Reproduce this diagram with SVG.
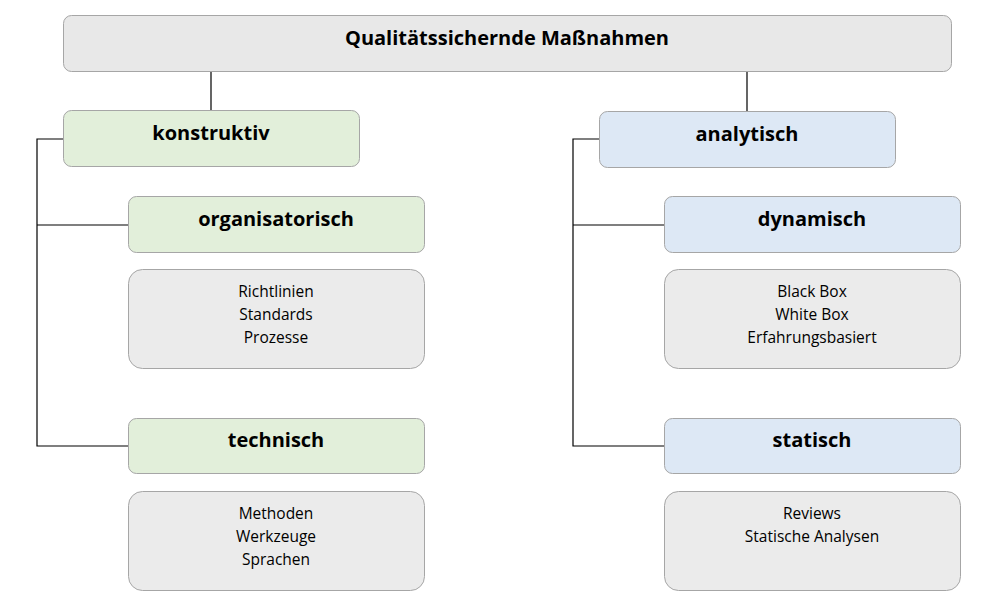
<svg xmlns="http://www.w3.org/2000/svg" width="1007" height="608" viewBox="0 0 1007 608">
<style>
rect{stroke:#a6a6a6;stroke-width:1}
.t{fill:#e8e8e8}.g{fill:#e2efda}.b{fill:#dde8f5}.c{fill:#ebebeb}
text{font-family:"Open Sans","Liberation Sans",sans-serif;text-anchor:middle;fill:#000}
.h{font-weight:bold;font-size:20px}
.s{font-size:15.5px}
#conn path{stroke:#000;stroke-width:1.2;fill:none}
</style>
<rect width="1007" height="608" fill="#fff" style="stroke:none"/>
<g id="conn">
<path d="M211 71V110M747 71V111M63 139H37V446H128M37 225H128M599 139H573V446H664M573 225H664"/>
</g>
<g id="root"><rect class="t" x="63.5" y="15.5" width="888" height="56" rx="8"/><text class="h" x="507" y="45">Qualitätssichernde Maßnahmen</text></g>
<g id="konstruktiv"><rect class="g" x="63.5" y="110.5" width="296" height="56" rx="8"/><text class="h" x="211" y="140">konstruktiv</text></g>
<g id="organisatorisch"><rect class="g" x="128.5" y="196.5" width="296" height="56" rx="8"/><text class="h" x="276" y="226">organisatorisch</text></g>
<g id="org-items"><rect class="c" x="128.5" y="269.5" width="296" height="99" rx="14"/><text class="s" x="276" y="297">Richtlinien</text><text class="s" x="276" y="320">Standards</text><text class="s" x="276" y="343">Prozesse</text></g>
<g id="technisch"><rect class="g" x="128.5" y="418.5" width="296" height="55" rx="8"/><text class="h" x="276" y="447">technisch</text></g>
<g id="tech-items"><rect class="c" x="128.5" y="491.5" width="296" height="99" rx="14"/><text class="s" x="276" y="519">Methoden</text><text class="s" x="276" y="542">Werkzeuge</text><text class="s" x="276" y="565">Sprachen</text></g>
<g id="analytisch"><rect class="b" x="599.5" y="111.5" width="296" height="56" rx="8"/><text class="h" x="747" y="141">analytisch</text></g>
<g id="dynamisch"><rect class="b" x="664.5" y="196.5" width="296" height="56" rx="8"/><text class="h" x="812" y="226">dynamisch</text></g>
<g id="dyn-items"><rect class="c" x="664.5" y="269.5" width="296" height="99" rx="14"/><text class="s" x="812" y="297">Black Box</text><text class="s" x="812" y="320">White Box</text><text class="s" x="812" y="343">Erfahrungsbasiert</text></g>
<g id="statisch"><rect class="b" x="664.5" y="418.5" width="296" height="55" rx="8"/><text class="h" x="812" y="447">statisch</text></g>
<g id="stat-items"><rect class="c" x="664.5" y="491.5" width="296" height="99" rx="14"/><text class="s" x="812" y="519">Reviews</text><text class="s" x="812" y="542">Statische Analysen</text></g>
</svg>
